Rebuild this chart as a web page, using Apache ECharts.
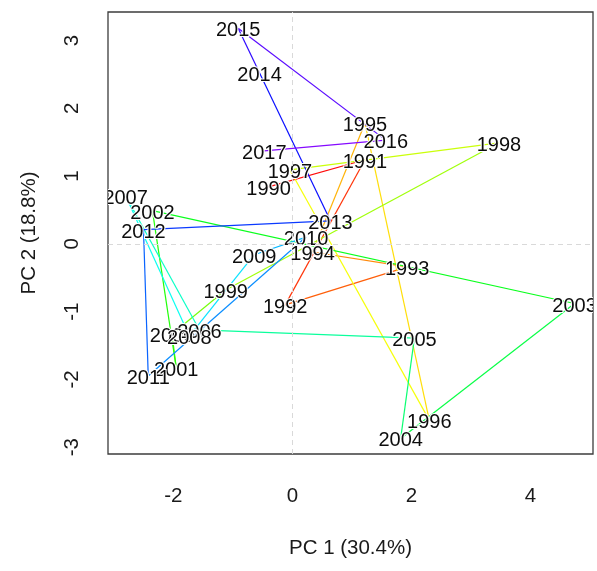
<!DOCTYPE html>
<html><head><meta charset="utf-8">
<script src="https://cdn.jsdelivr.net/npm/echarts@6/dist/echarts.min.js"></script>
<style>html,body{margin:0;padding:0;background:#fff}#c{width:597px;height:571px}</style>
</head><body><div id="c"></div>
<script>
// ---- data ----
const years = ['1990','1991','1992','1993','1994','1995','1996','1997','1998','1999',
               '2000','2001','2002','2003','2004','2005','2006','2007','2008','2009',
               '2010','2011','2012','2013','2014','2015','2016','2017'];
const pc1 = [-0.40, 1.22, -0.12, 1.93, 0.34, 1.22, 2.30, -0.04, 3.47, -1.12,
             -2.02, -1.95, -2.35, 4.74, 1.82, 2.05, -1.56, -2.80, -1.73, -0.64,
              0.23, -2.42, -2.50, 0.64, -0.55, -0.91, 1.57, -0.47];
const pc2 = [0.84, 1.24, -0.90, -0.34, -0.12, 1.78, -2.60, 1.09, 1.49, -0.68,
             -1.33, -1.83, 0.49, -0.88, -2.87, -1.39, -1.27, 0.71, -1.36, -0.16,
              0.10, -1.95, 0.21, 0.34, 2.52, 3.18, 1.53, 1.37];
const xTicks = [-2, 0, 2, 4];
const yTicks = [-3, -2, -1, 0, 1, 2, 3];
const xName = 'PC 1 (30.4%)';
const yName = 'PC 2 (18.8%)';

// ---- build ----
const FONT = '"Liberation Sans", Arial, sans-serif';
const nSeg = years.length - 1;
function segColor(i) {
  const h = (i / (nSeg - 1)) * 270;
  return 'hsl(' + h.toFixed(1) + ',100%,52%)';
}
const segData = [];
for (let i = 0; i < nSeg; i++) segData.push([pc1[i], pc2[i], pc1[i + 1], pc2[i + 1]]);
const ptData = years.map((y, i) => [pc1[i], pc2[i], y]);

const chart = echarts.init(document.getElementById('c'), null, {renderer: 'canvas'});
chart.setOption({
  animation: false,
  backgroundColor: '#fff',
  grid: {left: 108, right: 4, top: 12, bottom: 117, show: true,
         borderColor: '#3c3c3c', borderWidth: 1.3, backgroundColor: 'transparent'},
  xAxis: {
    type: 'value', min: -3.096, max: 5.05, splitNumber: 5,
    axisLine: {show: false}, axisTick: {show: false}, splitLine: {show: false},
    axisLabel: {margin: 32, fontSize: 20.5, color: '#1a1a1a', fontFamily: FONT,
      formatter: v => xTicks.some(t => Math.abs(t - v) < 1e-6) ? String(Math.round(v)) : ''},
    name: xName, nameLocation: 'middle', nameGap: 84,
    nameTextStyle: {fontSize: 20.5, color: '#1a1a1a', fontFamily: FONT}
  },
  yAxis: {
    type: 'value', min: -3.10, max: 3.42, splitNumber: 5,
    axisLine: {show: false}, axisTick: {show: false}, splitLine: {show: false},
    axisLabel: {margin: 25, rotate: 90, fontSize: 20.5, color: '#1a1a1a', fontFamily: FONT,
      formatter: v => yTicks.some(t => Math.abs(t - v) < 1e-6) ? String(Math.round(v)) : ''},
    name: yName, nameLocation: 'middle', nameGap: 68, nameRotate: 90,
    nameTextStyle: {fontSize: 20.5, color: '#1a1a1a', fontFamily: FONT}
  },
  series: [
    {
      type: 'line', data: [], z: 1, silent: true,
      markLine: {silent: true, symbol: 'none', label: {show: false},
        lineStyle: {type: [5, 4], color: '#d9d9d9', width: 1},
        data: [{xAxis: 0}, {yAxis: 0}]}
    },
    {
      type: 'custom', z: 2, clip: true, silent: true,
      data: segData,
      encode: {x: [0, 2], y: [1, 3]},
      renderItem: function (params, api) {
        const p1 = api.coord([api.value(0), api.value(1)]);
        const p2 = api.coord([api.value(2), api.value(3)]);
        return {type: 'line', shape: {x1: p1[0], y1: p1[1], x2: p2[0], y2: p2[1]},
                style: {stroke: segColor(params.dataIndex), lineWidth: 1.2, fill: null}};
      }
    },
    {
      type: 'custom', z: 3, clip: true, silent: true,
      data: ptData,
      encode: {x: 0, y: 1},
      renderItem: function (params, api) {
        const p = api.coord([api.value(0), api.value(1)]);
        return {type: 'text', x: p[0], y: p[1] + 2.5,
                style: {text: years[params.dataIndex], fill: '#0d0d0d', font: '20px ' + FONT,
                        align: 'center', verticalAlign: 'middle',
                        stroke: '#fff', lineWidth: 2, strokeFirst: true}};
      }
    }
  ]
});
</script>
</body></html>
